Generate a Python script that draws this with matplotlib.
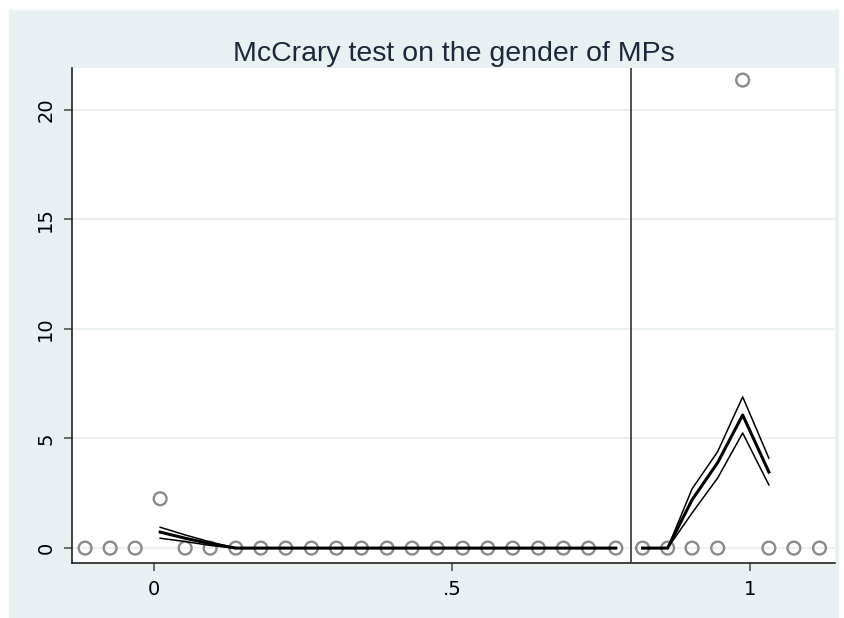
import matplotlib.pyplot as plt
from matplotlib.patches import Rectangle

# binned density (circles)
bin_x = [-0.116, -0.074, -0.032, 0.010, 0.052, 0.094, 0.137, 0.179, 0.221, 0.264,
         0.306, 0.348, 0.391, 0.433, 0.475, 0.518, 0.560, 0.602, 0.645, 0.687,
         0.729, 0.775,
         0.820, 0.862, 0.903, 0.946, 0.988, 1.032, 1.074, 1.117]
bin_y = [0, 0, 0, 2.25, 0, 0, 0, 0, 0, 0,
         0, 0, 0, 0, 0, 0, 0, 0, 0, 0,
         0, 0,
         0, 0, 0, 0, 21.35, 0, 0, 0]

# fitted density, left of the cutoff
left_x = [0.010, 0.052, 0.094, 0.137, 0.179, 0.221, 0.264, 0.306, 0.348, 0.391,
          0.433, 0.475, 0.518, 0.560, 0.602, 0.645, 0.687, 0.729, 0.775]
left_fit = [0.73, 0.45, 0.2, 0, 0, 0, 0, 0, 0, 0, 0, 0, 0, 0, 0, 0, 0, 0, 0]
left_hi = [0.95, 0.6, 0.28, 0, 0, 0, 0, 0, 0, 0, 0, 0, 0, 0, 0, 0, 0, 0, 0]
left_lo = [0.45, 0.3, 0.12, 0, 0, 0, 0, 0, 0, 0, 0, 0, 0, 0, 0, 0, 0, 0, 0]

# fitted density, right of the cutoff
right_x = [0.820, 0.862, 0.903, 0.946, 0.988, 1.032]
right_fit = [0, 0, 2.2, 3.9, 6.07, 3.47]
right_hi = [0, 0, 2.7, 4.4, 6.9, 4.1]
right_lo = [0, 0, 1.6, 3.2, 5.25, 2.88]

cutoff = 0.80

fig = plt.figure(figsize=(8.45, 6.18), dpi=100, facecolor='white')
fig.patches.append(Rectangle((9/845, 0), 829/845, 1 - 10/618,
                             transform=fig.transFigure, color='#e8f0f2', zorder=-5))
ax = fig.add_axes([72/845, 1 - 563/618, 763/845, 495/618])
ax.set_facecolor('white')

for yy in [0, 5, 10, 15, 20]:
    ax.axhline(yy, color='#e6eef0', lw=1.2, zorder=1)

ax.scatter(bin_x, bin_y, s=85, facecolors='none', edgecolors='#8a8a8a',
           linewidths=1.7, zorder=3)

for xs, fit, hi, lo in [(left_x, left_fit, left_hi, left_lo),
                        (right_x, right_fit, right_hi, right_lo)]:
    ax.plot(xs, hi, color='black', lw=1.1, zorder=4)
    ax.plot(xs, lo, color='black', lw=1.1, zorder=4)
    ax.plot(xs, fit, color='black', lw=2.2, zorder=5)

ax.axvline(cutoff, color='#333333', lw=1.2, zorder=4)

ax.set_xlim(-0.138, 1.143)
ax.set_ylim(-0.68, 21.9)
ax.set_xticks([0, 0.5, 1])
ax.set_xticklabels(['0', '.5', '1'])
ax.set_yticks([0, 5, 10, 15, 20])
ax.set_yticklabels(['0', '5', '10', '15', '20'], rotation=90, va='center')

for side in ['top', 'right']:
    ax.spines[side].set_visible(False)
for side in ['left', 'bottom']:
    ax.spines[side].set_color('#222222')
    ax.spines[side].set_linewidth(1.2)
ax.tick_params(axis='both', length=6, width=1.2, color='#555555',
               labelsize=14, labelcolor='black', pad=6)

fig.text(453.5/845, 1 - 61/618, 'McCrary test on the gender of MPs',
         ha='center', va='baseline', fontsize=20.5, color='#1c2738',
         family='Liberation Sans')

fig.savefig('out.png', dpi=100, facecolor=fig.get_facecolor())
